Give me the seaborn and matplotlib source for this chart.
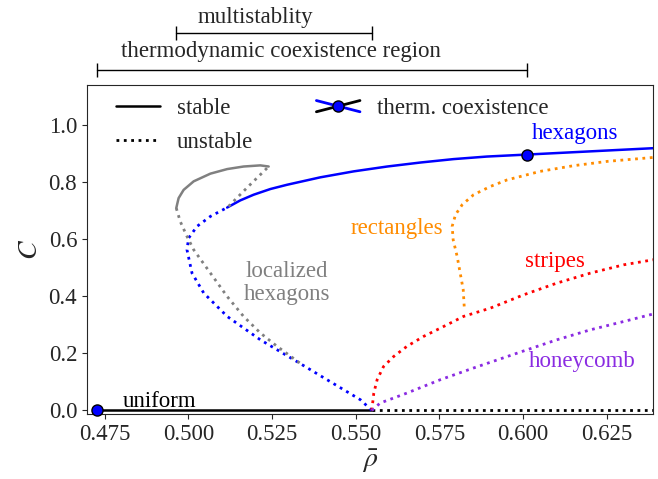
import matplotlib
matplotlib.use("Agg")
import matplotlib.pyplot as plt
import seaborn as sns
from matplotlib.lines import Line2D
from matplotlib.legend_handler import HandlerBase

# uniform state, C = 0
rho_bif = 0.5548
rho_coex_low = 0.4728
rho_coex_high = 0.6012
C_coex_high = 0.898
rho_max = 0.6389

# hexagons: unstable part from bifurcation to fold, then stable
hex_unst_rho = [0.5548, 0.5514, 0.5414, 0.5315, 0.5215, 0.5116, 0.5046, 0.5011,
                0.4996, 0.5001, 0.5026, 0.5066, 0.5116]
hex_unst_C = [0.0, 0.0375, 0.108, 0.178, 0.248, 0.330, 0.412, 0.482,
              0.564, 0.605, 0.646, 0.681, 0.712]
hex_st_rho = [0.5116, 0.5155, 0.5195, 0.5245, 0.5295, 0.5394, 0.5494, 0.5594,
              0.5693, 0.5792, 0.5892, 0.6012, 0.6400]
hex_st_C = [0.712, 0.737, 0.757, 0.777, 0.792, 0.818, 0.839, 0.856,
            0.870, 0.882, 0.891, 0.898, 0.921]

# localized hexagons (snaking branch)
loc_up_rho = [0.5120, 0.5180, 0.5240]
loc_up_C = [0.716, 0.787, 0.856]
loc_st_rho = [0.5240, 0.5215, 0.5165, 0.5116, 0.5066, 0.5016, 0.4986, 0.4971, 0.4964]
loc_st_C = [0.856, 0.860, 0.856, 0.847, 0.831, 0.804, 0.774, 0.745, 0.710]
loc_lo_rho = [0.4964, 0.4976, 0.4996, 0.5016, 0.5066, 0.5116, 0.5165, 0.5215,
              0.5265, 0.5344]
loc_lo_C = [0.710, 0.663, 0.611, 0.564, 0.482, 0.400, 0.330, 0.272, 0.225, 0.157]

# rectangles
rect_rho = [0.5824, 0.5821, 0.5812, 0.5803, 0.5791, 0.5788, 0.5798, 0.5818, 0.5852,
            0.5902, 0.5952, 0.6051, 0.6151, 0.6251, 0.6400]
rect_C = [0.365, 0.424, 0.482, 0.540, 0.599, 0.646, 0.687, 0.722, 0.757,
          0.786, 0.809, 0.839, 0.859, 0.874, 0.889]

# stripes
str_rho = [0.5548, 0.5554, 0.5564, 0.5583, 0.5613, 0.5653, 0.5703, 0.5753, 0.5822,
           0.5902, 0.6002, 0.6101, 0.6201, 0.6300, 0.6400]
str_C = [0.0, 0.061, 0.108, 0.154, 0.189, 0.225, 0.260, 0.289, 0.330,
         0.359, 0.406, 0.447, 0.482, 0.511, 0.531]

# honeycomb
hon_rho = [0.5548, 0.5573, 0.5653, 0.5753, 0.5852, 0.5952, 0.6012, 0.6101,
           0.6201, 0.6300, 0.6400]
hon_C = [0.0, 0.026, 0.061, 0.108, 0.149, 0.189, 0.213, 0.248, 0.283, 0.312, 0.342]


class CrossHandler(HandlerBase):
    def create_artists(self, legend, orig_handle, xdescent, ydescent,
                       width, height, fontsize, trans):
        x0, x1 = -xdescent, width - xdescent
        y0, y1 = -ydescent + 0.15 * height, -ydescent + 0.85 * height
        xm, ym = (x0 + x1) / 2, (y0 + y1) / 2
        a = Line2D([x0, x1], [y0, y1], color='black', lw=2, transform=trans)
        b = Line2D([x0, x1], [y1, y0], color='blue', lw=2, transform=trans)
        m = Line2D([xm], [ym], marker='o', ms=8, mfc='blue', mec='black',
                   ls='none', transform=trans)
        return [a, b, m]


sns.set_style('ticks')
plt.rcParams['font.family'] = ['Liberation Serif', 'DejaVu Serif']
plt.rcParams['mathtext.fontset'] = 'stix'
fs = 16.5

fig, ax = plt.subplots(figsize=(6.58, 4.79), dpi=100)
fig.subplots_adjust(left=0.132, right=0.993, bottom=0.136, top=0.8225)

lw = 1.8
dot = 2.0
# uniform
sns.lineplot(x=[rho_coex_low, rho_bif], y=[0, 0], color='black', lw=lw, ax=ax)
sns.lineplot(x=[rho_bif, rho_max], y=[0, 0], color='black', lw=dot, ls=':', ax=ax)


def curve(x, y, color, ls):
    sns.lineplot(x=x, y=y, color=color, lw=lw if ls == '-' else dot, ls=ls,
                 sort=False, estimator=None, ax=ax)


curve(hex_unst_rho, hex_unst_C, 'blue', ':')
curve(hex_st_rho, hex_st_C, 'blue', '-')
curve(loc_up_rho, loc_up_C, 'gray', ':')
curve(loc_st_rho, loc_st_C, 'gray', '-')
curve(loc_lo_rho, loc_lo_C, 'gray', ':')
curve(rect_rho, rect_C, 'darkorange', ':')
curve(str_rho, str_C, 'red', ':')
curve(hon_rho, hon_C, 'blueviolet', ':')

ax.plot([rho_coex_low, rho_coex_high], [0, C_coex_high], ls='none', marker='o',
        ms=8, mfc='blue', mec='black', zorder=5, clip_on=False)

ax.text(0.4914, 0.032, 'uniform', color='black', fontsize=fs, ha='center', va='center')
ax.text(0.6154, 0.973, 'hexagons', color='blue', fontsize=fs, ha='center', va='center')
ax.text(0.5622, 0.640, 'rectangles', color='darkorange', fontsize=fs, ha='center', va='center')
ax.text(0.6094, 0.523, 'stripes', color='red', fontsize=fs, ha='center', va='center')
ax.text(0.6176, 0.172, 'honeycomb', color='blueviolet', fontsize=fs, ha='center', va='center')
ax.text(0.5295, 0.447, 'localized\nhexagons', color='gray', fontsize=fs,
        ha='center', va='center', linespacing=1.1)

# brackets above the axes
ax.plot([rho_coex_low, rho_coex_high], [1.195, 1.195], color='black', lw=1,
        marker='|', ms=10, clip_on=False)
ax.text(0.5276, 1.258, 'thermodynamic coexistence region', fontsize=fs,
        ha='center', va='center')
ax.plot([0.4964, rho_bif], [1.324, 1.324], color='black', lw=1,
        marker='|', ms=10, clip_on=False)
ax.text(0.5200, 1.380, 'multistablity', fontsize=fs, ha='center', va='center')

ax.set_xlim(0.4697, rho_max)
ax.set_ylim(-0.012, 1.142)
ax.set_xticks([0.475, 0.5, 0.525, 0.55, 0.575, 0.6, 0.625])
ax.set_xticklabels(['0.475', '0.500', '0.525', '0.550', '0.575', '0.600', '0.625'])
ax.set_yticks([0, 0.2, 0.4, 0.6, 0.8, 1.0])
ax.tick_params(labelsize=fs)
ax.set_xlabel(r'$\bar{\rho}$', fontsize=20, labelpad=2)
ax.set_ylabel(r'$C$', fontsize=20, labelpad=4)

handles = [Line2D([], [], color='black', lw=lw),
           Line2D([], [], color='black', lw=dot, ls=':'),
           Line2D([], [])]
labels = ['stable', 'unstable', 'therm. coexistence']
ax.legend(handles, labels, loc='upper left', bbox_to_anchor=(0.036, 0.988),
          ncol=2, frameon=False, fontsize=fs,
          handler_map={handles[2]: CrossHandler()}, columnspacing=2.75,
          labelspacing=0.55, handlelength=1.9, handletextpad=0.75,
          borderaxespad=0)

fig.savefig('out.png', dpi=100)
